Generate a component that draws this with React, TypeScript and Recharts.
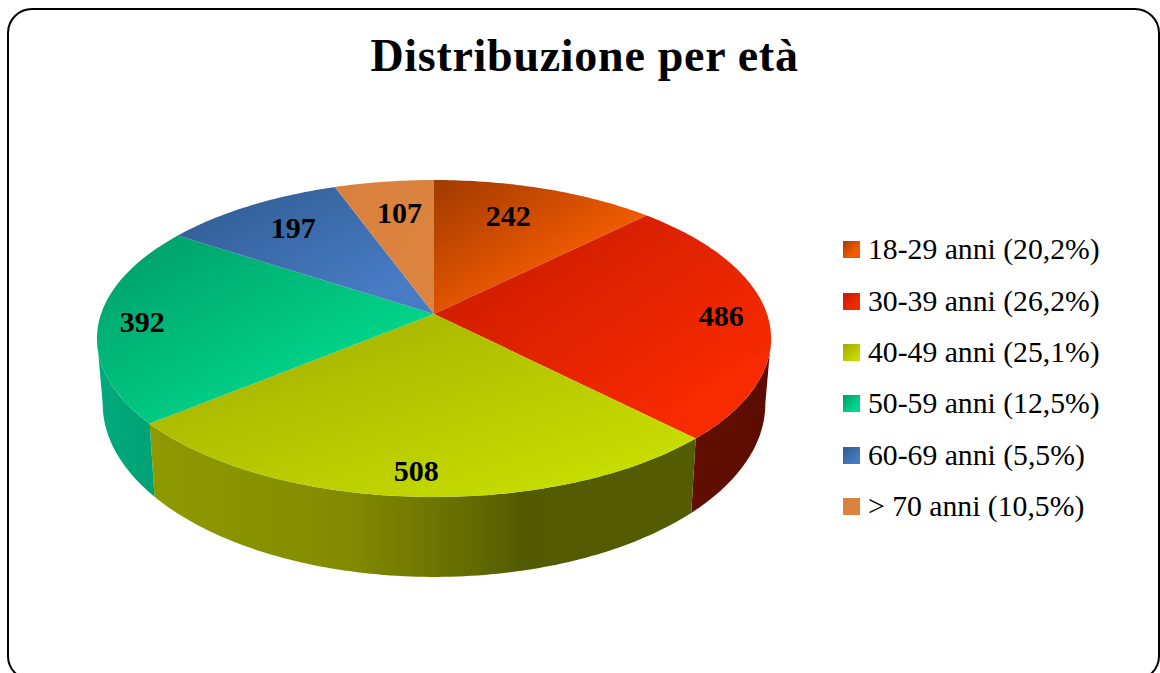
import { Legend, Pie, PieChart } from 'recharts';

const categories = ['18-29 anni', '30-39 anni', '40-49 anni', '50-59 anni', '60-69 anni', '> 70 anni'];
const legendShares = ['20,2%', '26,2%', '25,1%', '12,5%', '5,5%', '10,5%'];
const counts = [242, 486, 508, 392, 197, 107];
const topDark = ['#a03a00', '#c41a00', '#a0aa00', '#009a68', '#2f5a8e', '#d8803c'];
const topBright = ['#f05a00', '#f82a00', '#c8de00', '#00da8c', '#477bc4', '#dc8540'];

const data = counts.map((value, i) => ({
  name: `${categories[i]} (${legendShares[i]})`,
  value,
  fill: `url(#top${i})`,
  sliceIndex: i,
}));

const SERIF = '"Liberation Serif", serif';
const CX = 434;
const CY = 314;
const RADIUS = 333;
// perspective of the tilted disc
const TILT = 0.1546;
const TOP_Y = 154.7 / RADIUS;
const BOTTOM_CY = 377;
const BOTTOM_X = 0.983;
const BOTTOM_Y = 169 / RADIUS;
// where the silhouette of the disc turns, degrees clockwise from 12 o'clock
const EDGE_FROM = 98.9;
const EDGE_TO = 261.1;
// hand placed count labels, [dx, dy] per slice
const LABEL_NUDGE = [[-9, -5], [-6, 1], [0, -1], [3, 0], [-4, -6], [3, -3]];
// how far along the slice the gradient reaches its bright colour
const GRADIENT_END = [0.62, 0.82, 0.88, 0.78, 0.8, 1];

const rad = (d: number) => (d * Math.PI) / 180;

function onTop(clock: number, r: number): [number, number] {
  const x = r * Math.sin(rad(clock));
  const y = -r * Math.cos(rad(clock));
  const w = 1 - TILT * y;
  return [CX + (RADIUS * x) / w, CY + (RADIUS * TOP_Y * y) / w];
}

function onBottom(clock: number): [number, number] {
  const x = Math.sin(rad(clock));
  const y = -Math.cos(rad(clock));
  const w = 1 - TILT * y;
  return [CX + (RADIUS * BOTTOM_X * x) / w, BOTTOM_CY + (RADIUS * BOTTOM_Y * y) / w];
}

function arc(from: number, to: number, fn: (a: number) => [number, number]) {
  const pts: string[] = [];
  const steps = Math.max(2, Math.ceil(Math.abs(to - from)));
  for (let i = 0; i <= steps; i++) {
    const p = fn(from + ((to - from) * i) / steps);
    pts.push(`${p[0].toFixed(2)} ${p[1].toFixed(2)}`);
  }
  return pts;
}

function Slice3D(props: any) {
  const from = 90 - props.startAngle;
  const to = 90 - props.endAngle;
  const top = arc(from, to, (a) => onTop(a, 1));
  const wallFrom = Math.max(from, EDGE_FROM);
  const wallTo = Math.min(to, EDGE_TO);
  let wall = null;
  if (wallTo > wallFrom) {
    const upper = arc(wallFrom, wallTo, (a) => onTop(a, 1));
    const lower = arc(wallTo, wallFrom, onBottom);
    wall = <path d={`M${upper.join('L')}L${lower.join('L')}Z`} fill={`url(#wall${props.sliceIndex})`} />;
  }
  return (
    <g>
      {wall}
      <path d={`M${CX} ${CY}L${top.join('L')}Z`} fill={props.fill} />
    </g>
  );
}

function renderCount(props: any) {
  const clock = 90 - props.midAngle;
  const back = Math.cos(rad(clock)) > 0.5;
  const [x, y] = onTop(clock, back ? 0.72 : 0.88);
  const nudge = LABEL_NUDGE[counts.indexOf(props.value)];
  return (
    <text
      x={x + nudge[0]}
      y={y + nudge[1]}
      textAnchor="middle"
      dominantBaseline="central"
      fontFamily={SERIF}
      fontSize={30}
      fontWeight="bold"
      fill="#000"
    >
      {props.value}
    </text>
  );
}

function AgeLegend(props: any) {
  return (
    <div>
      {(props.payload || []).map((entry: any, i: number) => (
        <div key={entry.value} style={{ display: 'flex', alignItems: 'center', height: 51.4 }}>
          <svg width={17} height={17} style={{ marginRight: 8, flex: 'none' }}>
            <rect width={17} height={17} fill={`url(#top${i})`} />
          </svg>
          <span style={{ fontFamily: SERIF, fontSize: 29.7, color: '#000', whiteSpace: 'nowrap' }}>{entry.value}</span>
        </div>
      ))}
    </div>
  );
}

export default function App() {
  return (
    <div style={{ position: 'absolute', left: 0, top: 0, width: 1160, height: 673, overflow: 'hidden', background: '#fff' }}>
      <PieChart width={1160} height={673} margin={{ top: 0, right: 0, bottom: 0, left: 0 }}>
        <defs>
          {topDark.map((c, i) => (
            <linearGradient key={c} id={`top${i}`} x1="0" y1="0" x2="1" y2="1">
              <stop offset="0" stopColor={c} />
              <stop offset={GRADIENT_END[i]} stopColor={topBright[i]} />
            </linearGradient>
          ))}
          <linearGradient id="wall1" x1="0" y1="0" x2="1" y2="0">
            <stop offset="0" stopColor="#620f00" />
            <stop offset="1" stopColor="#5c0c00" />
          </linearGradient>
          <linearGradient id="wall2" x1="0" y1="0" x2="1" y2="0">
            <stop offset="0" stopColor="#8f9a00" />
            <stop offset="0.35" stopColor="#838c00" />
            <stop offset="0.47" stopColor="#757c00" />
            <stop offset="0.59" stopColor="#626c00" />
            <stop offset="0.68" stopColor="#535b00" />
            <stop offset="1" stopColor="#545c00" />
          </linearGradient>
          <linearGradient id="wall3" x1="0" y1="0" x2="1" y2="0">
            <stop offset="0" stopColor="#00ab7c" />
            <stop offset="1" stopColor="#00a274" />
          </linearGradient>
        </defs>
        <rect x={8} y={9} width={1151} height={671} rx={24} ry={24} fill="#fff" stroke="#000" strokeWidth={2} />
        <text
          x={584.5}
          y={71}
          textAnchor="middle"
          fontFamily={SERIF}
          fontSize={46}
          fontWeight="bold"
          letterSpacing={0.72}
          fill="#000"
        >
          Distribuzione per età
        </text>
        <Pie
          data={data}
          dataKey="value"
          nameKey="name"
          cx={CX}
          cy={CY}
          outerRadius={RADIUS}
          startAngle={90}
          endAngle={-270}
          stroke="none"
          shape={Slice3D}
          label={renderCount}
          labelLine={false}
          isAnimationActive={false}
        />
        <Legend
          content={AgeLegend}
          layout="vertical"
          wrapperStyle={{ position: 'absolute', left: 843, top: 224, width: 300, height: 310 }}
        />
      </PieChart>
    </div>
  );
}
